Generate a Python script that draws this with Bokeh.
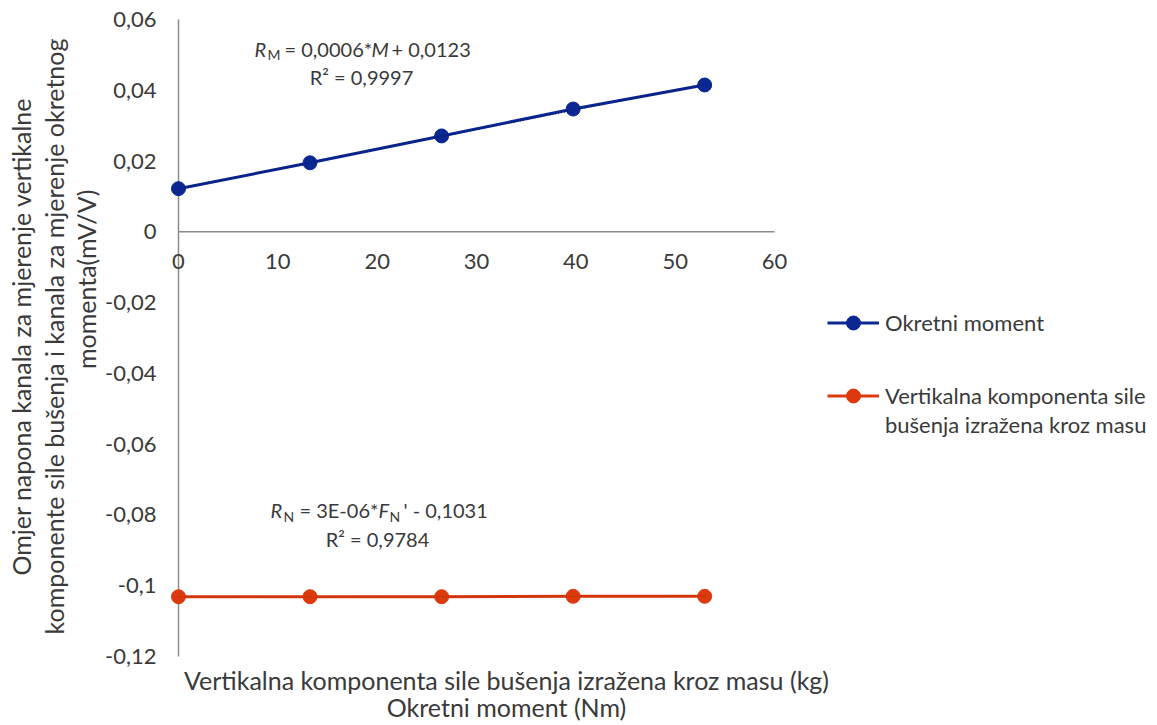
import numpy as np
from bokeh.plotting import figure
from bokeh.models import (Range1d, FixedTicker, CustomJSTickFormatter, Legend,
                          LegendItem, Label)
from bokeh.embed import file_html
from bokeh.resources import INLINE

# ---------------- data ----------------
x_moment = [0, 13.24, 26.49, 39.73, 52.97]
y_moment = [0.0122, 0.0195, 0.0271, 0.0347, 0.0415]
x_force = [0, 13.24, 26.49, 39.73, 52.97]
y_force = [-0.1031, -0.1031, -0.1031, -0.1030, -0.1030]
x_ticks = [0, 10, 20, 30, 40, 50, 60]
y_ticks = [-0.12, -0.1, -0.08, -0.06, -0.04, -0.02, 0, 0.02, 0.04, 0.06]
legend_names = ["Okretni moment", "Vertikalna komponenta sile", "bušenja izražena kroz masu"]
y_title_lines = ["Omjer napona kanala za mjerenje vertikalne",
                 "komponente sile bušenja i kanala za mjerenje okretnog",
                 "momenta(mV/V)"]
x_title_1 = "Vertikalna komponenta sile bušenja izražena kroz masu (kg)"
x_title_2 = "Okretni moment (Nm)"
r2_moment = "R² = 0,9997"
r2_force = "R² = 0,9784"

BLUE = "#0b2791"
RED = "#dc3a0c"
TXT = "#3a3a3a"
AX = "#8c8c8c"
FONT = "Lato"
EQ = "20px"

# page geometry (pixels): where the figure lands in the photographed page
PL, PT, PW, PH = 1, 1, 1152, 722
# data area of reference: x 0..60 -> px 179..775, y 0.06..-0.12 -> px 20..657
DX0, DX1, DY0, DY1 = 179, 775, 20, 657
sx = (DX1 - DX0) / (x_ticks[-1] - x_ticks[0])
sy = (DY1 - DY0) / (y_ticks[-1] - y_ticks[0])
x_start = x_ticks[0] - (DX0 - PL) / sx
x_end = x_ticks[-1] + (PL + PW - DX1) / sx
y_end = y_ticks[-1] + (DY0 - PT) / sy
y_start = y_ticks[0] - (PT + PH - DY1) / sy


def fx(px):
    return x_ticks[0] + (px - DX0) / sx


def fy(py):
    return y_ticks[-1] - (py - DY0) / sy


p = figure(width=PW, height=PH, output_backend="svg", toolbar_location=None,
           x_range=Range1d(x_start, x_end), y_range=Range1d(y_start, y_end),
           min_border=0)
p.outline_line_color = None
p.xgrid.visible = False
p.ygrid.visible = False

# axes (crossing at zero)
p.xaxis.ticker = FixedTicker(ticks=x_ticks)
p.yaxis.ticker = FixedTicker(ticks=y_ticks)
p.yaxis.formatter = CustomJSTickFormatter(code="""
var s = (Math.round(tick*100)/100).toString();
return s.replace('.', ',');
""")
p.xaxis.fixed_location = 0
p.yaxis.fixed_location = 0
for ax in (p.xaxis, p.yaxis):
    ax.axis_line_color = None
    ax.major_tick_line_color = None
    ax.minor_tick_line_color = None
    ax.major_label_text_font = FONT
    ax.major_label_text_font_size = "22px"
    ax.major_label_text_color = TXT
p.yaxis.major_label_standoff = 16
p.xaxis.major_label_standoff = 16

p.line([x_ticks[0], x_ticks[-1]], [0, 0], line_color=AX, line_width=1.5)
p.line([0, 0], [y_ticks[0], y_ticks[-1]], line_color=AX, line_width=1.5)

# series
l1 = p.line(x_moment, y_moment, line_color=BLUE, line_width=3)
s1 = p.scatter(x_moment, y_moment, size=14, fill_color=BLUE, line_color=BLUE)
l2 = p.line(x_force, y_force, line_color=RED, line_width=3)
s2 = p.scatter(x_force, y_force, size=14, fill_color=RED, line_color=RED)
ghost = p.line(x_force, y_force, line_alpha=0)

# trendlines (least squares on the data)
c1 = np.polyfit(x_moment, y_moment, 1)
c2 = np.polyfit(x_force, y_force, 1)
tx = [x_moment[0], x_moment[-1]]
p.line(tx, [c1[0] * t + c1[1] for t in tx], line_color="#061a6e", line_width=1.5, line_dash="1 2")
p.line(tx, [c2[0] * t + c2[1] for t in tx], line_color="#b02a05", line_width=1.5, line_dash="1 2")


def lab(text, px, py, size=EQ, style="normal", align="left", angle=0.0):
    p.add_layout(Label(x=fx(px), y=fy(py), text=text, text_font=FONT, text_font_size=size,
                       text_font_style=style, text_color=TXT, text_baseline="middle",
                       text_align=align, angle=angle))


# trendline equations
a = 255
lab("R", a, 49, style="italic")
lab("M", a + 13, 55, size="14px")
lab("= 0,0006*", a + 30, 49)
lab("M", a + 117, 49, style="italic")
lab("+ 0,0123", a + 137, 49)
lab(r2_moment, 362, 77, align="center")

b = 271
lab("R", b, 510, style="italic")
lab("N", b + 13, 517, size="14px")
lab("= 3E-06*", b + 29, 510)
lab("F", b + 108, 510, style="italic")
lab("N", b + 119, 517, size="14px")
lab("' - 0,1031", b + 133, 510)
lab(r2_force, 378, 539, align="center")

# axis titles
lab(y_title_lines[0], 21, 337, size="25px", align="center", angle=np.pi / 2)
lab(y_title_lines[1], 54, 337, size="25px", align="center", angle=np.pi / 2)
lab(y_title_lines[2], 86, 190, size="25px", align="right", angle=np.pi / 2)
lab(x_title_1, 507, 680, size="25px", align="center")
lab(x_title_2, 507, 707, size="25px", align="center")


# legends (one per text line so that the line spacing follows the reference)
def mk_legend(item, y_center_px):
    h = 35
    lg = Legend(items=[item], location=(828 - PL, PT + PH - (y_center_px + h / 2)),
                label_text_font=FONT, label_text_font_size="22px", label_text_color=TXT,
                label_height=h, glyph_height=h, glyph_width=52, label_standoff=6,
                padding=0, margin=0, spacing=0, border_line_color=None,
                background_fill_alpha=0)
    p.add_layout(lg, "center")


mk_legend(LegendItem(label=legend_names[0], renderers=[l1, s1]), 323)
mk_legend(LegendItem(label=legend_names[1], renderers=[l2, s2]), 396)
mk_legend(LegendItem(label=legend_names[2], renderers=[ghost]), 425)

open("out.html", "w").write(file_html(p, INLINE))
